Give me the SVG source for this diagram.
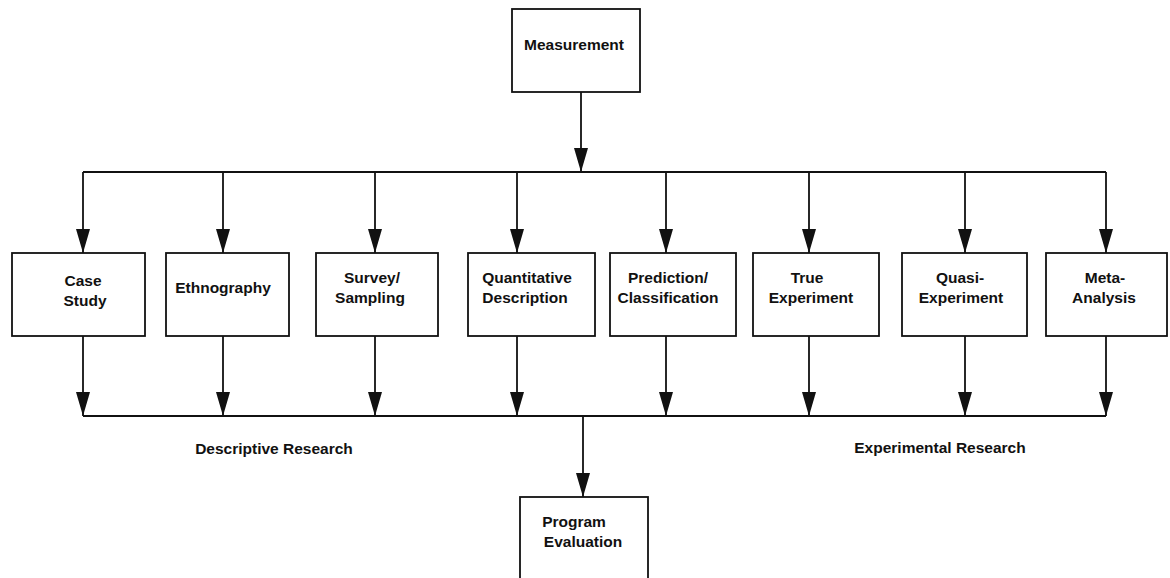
<svg xmlns="http://www.w3.org/2000/svg" width="1170" height="578" viewBox="0 0 1170 578">
<style>
  .box { fill: #ffffff; stroke: #111111; stroke-width: 1.8; }
  .lbl { font-family: "Liberation Sans", Arial, sans-serif; font-weight: bold; font-size: 15.5px; fill: #111111; text-anchor: middle; }
  .ln { fill: none; stroke: #111111; stroke-width: 1.8; }
  .arr { fill: none; stroke: #111111; stroke-width: 1.8; marker-end: url(#ah); }
</style>
<defs>
  <marker id="ah" viewBox="0 0 24 14" refX="24" refY="7" markerWidth="24" markerHeight="14" markerUnits="userSpaceOnUse" orient="auto">
    <path d="M0,0 L24,7 L0,14 z" fill="#111111"/>
  </marker>
</defs>
<rect width="1170" height="578" fill="#ffffff"/>
<g id="connectors">
  <path class="arr" d="M581,92 V172"/>
  <path class="ln" d="M83,172 H1106"/>
  <path class="arr" d="M83,172 V253"/>
  <path class="arr" d="M223,172 V253"/>
  <path class="arr" d="M375,172 V253"/>
  <path class="arr" d="M517,172 V253"/>
  <path class="arr" d="M666,172 V253"/>
  <path class="arr" d="M809,172 V253"/>
  <path class="arr" d="M965,172 V253"/>
  <path class="arr" d="M1106,172 V253"/>
  <path class="arr" d="M83,336 V416"/>
  <path class="arr" d="M223,336 V416"/>
  <path class="arr" d="M375,336 V416"/>
  <path class="arr" d="M517,336 V416"/>
  <path class="arr" d="M666,336 V416"/>
  <path class="arr" d="M809,336 V416"/>
  <path class="arr" d="M965,336 V416"/>
  <path class="arr" d="M1106,336 V416"/>
  <path class="ln" d="M83,416 H1106"/>
  <path class="arr" d="M583,416 V497"/>
</g>
<g id="measurement">
  <rect class="box" x="512" y="9" width="128" height="83"/>
  <text class="lbl" x="574" y="50">Measurement</text>
</g>
<g id="case-study">
  <rect class="box" x="12" y="253" width="133" height="83"/>
  <text class="lbl" x="83" y="286">Case</text>
  <text class="lbl" x="85" y="306">Study</text>
</g>
<g id="ethnography">
  <rect class="box" x="166" y="253" width="123" height="83"/>
  <text class="lbl" x="223" y="293">Ethnography</text>
</g>
<g id="survey-sampling">
  <rect class="box" x="316" y="253" width="122" height="83"/>
  <text class="lbl" x="372" y="283">Survey/</text>
  <text class="lbl" x="370" y="303">Sampling</text>
</g>
<g id="quantitative-description">
  <rect class="box" x="468" y="253" width="127" height="83"/>
  <text class="lbl" x="527" y="283">Quantitative</text>
  <text class="lbl" x="525" y="303">Description</text>
</g>
<g id="prediction-classification">
  <rect class="box" x="610" y="253" width="126" height="83"/>
  <text class="lbl" x="668" y="283">Prediction/</text>
  <text class="lbl" x="668" y="303">Classification</text>
</g>
<g id="true-experiment">
  <rect class="box" x="753" y="253" width="126" height="83"/>
  <text class="lbl" x="807" y="283">True</text>
  <text class="lbl" x="811" y="303">Experiment</text>
</g>
<g id="quasi-experiment">
  <rect class="box" x="902" y="253" width="125" height="83"/>
  <text class="lbl" x="960" y="283">Quasi-</text>
  <text class="lbl" x="961" y="303">Experiment</text>
</g>
<g id="meta-analysis">
  <rect class="box" x="1046" y="253" width="121" height="83"/>
  <text class="lbl" x="1105" y="283">Meta-</text>
  <text class="lbl" x="1104" y="303">Analysis</text>
</g>
<g id="descriptive-research">
  <text class="lbl" x="274" y="454">Descriptive Research</text>
</g>
<g id="experimental-research">
  <text class="lbl" x="940" y="453">Experimental Research</text>
</g>
<g id="program-evaluation">
  <rect class="box" x="520" y="497" width="128" height="88"/>
  <text class="lbl" x="574" y="527">Program</text>
  <text class="lbl" x="583" y="547">Evaluation</text>
</g>
</svg>
